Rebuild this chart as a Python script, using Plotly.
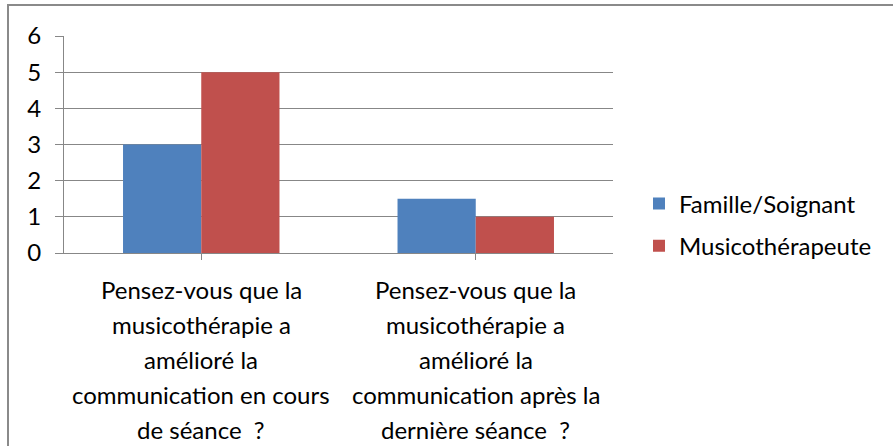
import plotly.graph_objects as go

categories = [
    "Pensez-vous que la<br>musicothérapie a<br>amélioré la<br>communication en cours<br>de séance  ?",
    "Pensez-vous que la<br>musicothérapie a<br>amélioré la<br>communication après la<br>dernière séance  ?",
]
series_names = ["Famille/Soignant", "Musicothérapeute"]
famille_values = [3, 1.5]
musico_values = [5, 1]
y_ticks = [0, 1, 2, 3, 4, 5, 6]

FONT = "Lato"
FS = 24
W, H = 893, 446
L, R, T, B = 64, 280, 36, 193
plot_h = H - T - B

fig = go.Figure()
fig.add_trace(go.Bar(x=[0, 1], y=famille_values, name=series_names[0],
                     marker=dict(color="#4F81BD", line=dict(width=0)), legendgroup="a"))
fig.add_trace(go.Bar(x=[0, 1], y=musico_values, name=series_names[1],
                     marker=dict(color="#C0504D", line=dict(width=0)), legendgroup="b"))

# category labels, one annotation per line for Excel-like line spacing
line_centers = [289, 324, 359, 394, 429]
for i, cat in enumerate(categories):
    for j, line in enumerate(cat.split("<br>")):
        fig.add_annotation(x=i, xref="x", y=(H - B - line_centers[j]) / plot_h, yref="paper",
                           text=line, showarrow=False, xanchor="center", yanchor="middle",
                           font=dict(family=FONT, size=FS, color="#000000"))

fig.add_shape(type="rect", xref="paper", yref="paper",
              x0=(8 - L) / (W - L - R), x1=2, y0=(H - B - 5) / plot_h, y1=-2,
              line=dict(color="#8a8a8a", width=2), layer="below")

fig.update_layout(
    width=W, height=H,
    margin=dict(l=L, r=R, t=T, b=B, pad=0),
    paper_bgcolor="white", plot_bgcolor="white",
    bargap=0.43, bargroupgap=0,
    font=dict(family=FONT, size=FS, color="#000000"),
    legend=dict(x=(639 - L) / (W - L - R), xanchor="left", y=(H - B - 225) / plot_h, yanchor="middle",
                font=dict(family=FONT, size=FS, color="#000000"), tracegroupgap=8,
                bgcolor="rgba(0,0,0,0)"),
    xaxis=dict(range=[-0.5, 1.5], tickmode="array", tickvals=[0, 1], ticktext=["", ""],
               showticklabels=False, tickson="boundaries", ticks="outside", ticklen=6,
               tickcolor="#878787", showline=True, linecolor="#878787", linewidth=1,
               showgrid=False, zeroline=False),
    yaxis=dict(range=[0, 6], tickvals=y_ticks, ticks="outside", ticklen=8, tickcolor="#878787",
               showline=True, linecolor="#878787", linewidth=1, showgrid=True,
               gridcolor="#878787", gridwidth=1, zeroline=False, ticklabelstandoff=9,
               tickfont=dict(family=FONT, size=FS, color="#000000")),
)
fig.write_html("out.html", config={"displayModeBar": False},
               post_script="document.body.style.margin='0';document.body.style.overflow='hidden';")
